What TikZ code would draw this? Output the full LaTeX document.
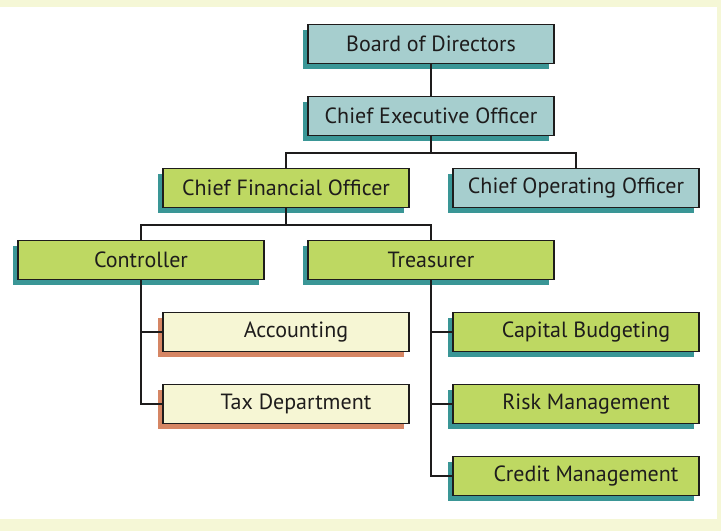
\documentclass[tikz,border=0pt]{standalone}
\usepackage{fontspec}
\setmainfont{PT Sans}
\usepackage{tikz}
\usetikzlibrary{positioning,shadows}
\definecolor{bluebox}{RGB}{166,206,206}
\definecolor{greenbox}{RGB}{190,216,98}
\definecolor{creambox}{RGB}{246,246,212}
\definecolor{tealshade}{RGB}{58,150,150}
\definecolor{rustshade}{RGB}{214,134,100}
\definecolor{pagecream}{RGB}{245,247,214}
\definecolor{ink}{RGB}{30,28,28}

\begin{document}
\begin{tikzpicture}[x=1pt,y=1pt,on grid,node distance=72pt and 145pt,
    box/.style={draw=ink,line width=1.3pt,minimum width=246pt,minimum height=39pt,
      inner sep=0pt,text=ink,font=\fontsize{22}{24}\selectfont},
    tealshadow/.style={drop shadow={shadow xshift=-5pt,shadow yshift=-5pt,fill=tealshade,opacity=1}},
    exec/.style={box,tealshadow,fill=bluebox},
    mgr/.style={box,tealshadow,fill=greenbox},
    dept/.style={box,tealshadow,fill=greenbox,execute at begin node=\hspace*{20pt}},
    acctdept/.style={box,fill=creambox,execute at begin node=\hspace*{20pt},
      drop shadow={shadow xshift=-5pt,shadow yshift=-5pt,fill=rustshade,opacity=1}},
    link/.style={draw=ink,line width=2.3pt}]
    \fill[pagecream] (0,0) rectangle (721,-531);
    \fill[white] (0,-7) rectangle (717,-519);
    \useasboundingbox (0,0) rectangle (721,-531);

    \node[exec] (bod) at (431,-44) {Board of Directors};
    \node[exec] (ceo) [below=of bod] {Chief Executive Officer};
    \node[mgr] (cfo) [below left=of ceo] {Chief Financial Officer};
    \node[exec] (coo) [below right=of ceo] {Chief Operating Officer};
    \node[mgr] (ctrl) [below left=of cfo] {Controller};
    \node[mgr] (treas) [below right=of cfo] {Treasurer};
    \node[acctdept] (acct) [below right=of ctrl] {Accounting};
    \node[acctdept] (tax) [below=of acct] {Tax Department};
    \node[dept] (capb) [below right=of treas] {Capital Budgeting};
    \node[dept] (risk) [below=of capb] {Risk Management};
    \node[dept] (cred) [below=of risk] {Credit Management};

    \draw[link] (bod) -- (ceo);
    \draw[link] (ceo.south) -- ++(0,-16.5) coordinate (bus1);
    \draw[link] (cfo.north) |- (bus1) -| (coo.north);
    \draw[link] (cfo.south) -- ++(0,-16.5) coordinate (bus2);
    \draw[link] (ctrl.north) |- (bus2) -| (treas.north);
    \draw[link] (ctrl.south) |- (tax.west);
    \draw[link] (ctrl.south |- acct.west) -- (acct.west);
    \draw[link] (treas.south) |- (cred.west);
    \draw[link] (treas.south |- capb.west) -- (capb.west);
    \draw[link] (treas.south |- risk.west) -- (risk.west);
\end{tikzpicture}
\end{document}
